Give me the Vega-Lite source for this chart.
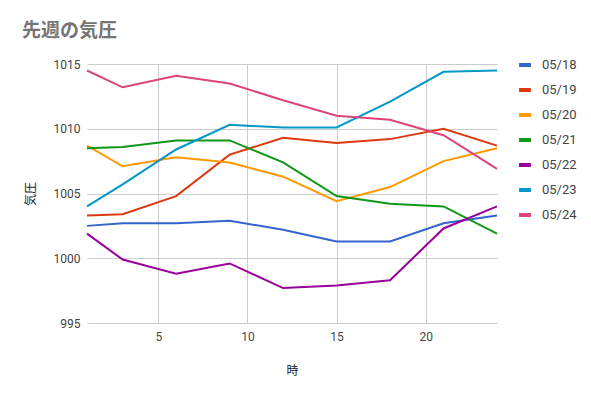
{
  "$schema": "https://vega.github.io/schema/vega-lite/v6.json",
  "autosize": "none",
  "width": 410,
  "height": 259,
  "padding": {"left": 87, "top": 64, "right": 94, "bottom": 74},
  "background": "white",
  "config": {
    "font": "Roboto, Noto Sans CJK JP",
    "view": {"stroke": null}
  },
  "title": {
    "text": "先週の気圧",
    "anchor": "start",
    "frame": "group",
    "dx": -65,
    "offset": 16,
    "fontSize": 19,
    "fontWeight": "bold",
    "color": "#757575",
    "font": "Noto Sans CJK JP"
  },
  "data": {
    "values": [
      {"date": "05/18", "hour": 1, "p": 1002.5}, {"date": "05/18", "hour": 3, "p": 1002.7}, {"date": "05/18", "hour": 6, "p": 1002.7}, {"date": "05/18", "hour": 9, "p": 1002.9}, {"date": "05/18", "hour": 12, "p": 1002.2}, {"date": "05/18", "hour": 15, "p": 1001.3}, {"date": "05/18", "hour": 18, "p": 1001.3}, {"date": "05/18", "hour": 21, "p": 1002.7}, {"date": "05/18", "hour": 24, "p": 1003.3},
      {"date": "05/19", "hour": 1, "p": 1003.3}, {"date": "05/19", "hour": 3, "p": 1003.4}, {"date": "05/19", "hour": 6, "p": 1004.8}, {"date": "05/19", "hour": 9, "p": 1008.0}, {"date": "05/19", "hour": 12, "p": 1009.3}, {"date": "05/19", "hour": 15, "p": 1008.9}, {"date": "05/19", "hour": 18, "p": 1009.2}, {"date": "05/19", "hour": 21, "p": 1010.0}, {"date": "05/19", "hour": 24, "p": 1008.7},
      {"date": "05/20", "hour": 1, "p": 1008.7}, {"date": "05/20", "hour": 3, "p": 1007.1}, {"date": "05/20", "hour": 6, "p": 1007.8}, {"date": "05/20", "hour": 9, "p": 1007.4}, {"date": "05/20", "hour": 12, "p": 1006.3}, {"date": "05/20", "hour": 15, "p": 1004.4}, {"date": "05/20", "hour": 18, "p": 1005.5}, {"date": "05/20", "hour": 21, "p": 1007.5}, {"date": "05/20", "hour": 24, "p": 1008.5},
      {"date": "05/21", "hour": 1, "p": 1008.5}, {"date": "05/21", "hour": 3, "p": 1008.6}, {"date": "05/21", "hour": 6, "p": 1009.1}, {"date": "05/21", "hour": 9, "p": 1009.1}, {"date": "05/21", "hour": 12, "p": 1007.4}, {"date": "05/21", "hour": 15, "p": 1004.8}, {"date": "05/21", "hour": 18, "p": 1004.2}, {"date": "05/21", "hour": 21, "p": 1004.0}, {"date": "05/21", "hour": 24, "p": 1001.9},
      {"date": "05/22", "hour": 1, "p": 1001.9}, {"date": "05/22", "hour": 3, "p": 999.9}, {"date": "05/22", "hour": 6, "p": 998.8}, {"date": "05/22", "hour": 9, "p": 999.6}, {"date": "05/22", "hour": 12, "p": 997.7}, {"date": "05/22", "hour": 15, "p": 997.9}, {"date": "05/22", "hour": 18, "p": 998.3}, {"date": "05/22", "hour": 21, "p": 1002.3}, {"date": "05/22", "hour": 24, "p": 1004.0},
      {"date": "05/23", "hour": 1, "p": 1004.0}, {"date": "05/23", "hour": 3, "p": 1005.7}, {"date": "05/23", "hour": 6, "p": 1008.4}, {"date": "05/23", "hour": 9, "p": 1010.3}, {"date": "05/23", "hour": 12, "p": 1010.1}, {"date": "05/23", "hour": 15, "p": 1010.1}, {"date": "05/23", "hour": 18, "p": 1012.1}, {"date": "05/23", "hour": 21, "p": 1014.4}, {"date": "05/23", "hour": 24, "p": 1014.5},
      {"date": "05/24", "hour": 1, "p": 1014.5}, {"date": "05/24", "hour": 3, "p": 1013.2}, {"date": "05/24", "hour": 6, "p": 1014.1}, {"date": "05/24", "hour": 9, "p": 1013.5}, {"date": "05/24", "hour": 12, "p": 1012.2}, {"date": "05/24", "hour": 15, "p": 1011.0}, {"date": "05/24", "hour": 18, "p": 1010.7}, {"date": "05/24", "hour": 21, "p": 1009.5}, {"date": "05/24", "hour": 24, "p": 1006.9}
    ]
  },
  "mark": {"type": "line", "strokeWidth": 2},
  "encoding": {
    "x": {
      "field": "hour", "type": "quantitative", "title": "時",
      "scale": {"domain": [1, 24], "nice": false, "zero": false},
      "axis": {"values": [5, 10, 15, 20], "format": "d", "domain": false, "ticks": false, "gridColor": "#cccccc", "labelColor": "#444444", "labelFontSize": 12, "labelPadding": 8, "titleFontSize": 12, "titleFontWeight": "normal", "titleColor": "#222222", "titlePadding": 23, "titleFont": "Noto Sans CJK JP"}
    },
    "y": {
      "field": "p", "type": "quantitative", "title": "気圧",
      "scale": {"domain": [995, 1015], "nice": false, "zero": false},
      "axis": {"values": [995, 1000, 1005, 1010, 1015], "format": "d", "domain": false, "ticks": false, "gridColor": "#cccccc", "labelColor": "#444444", "labelFontSize": 12, "labelPadding": 7, "titleFontSize": 12, "titleFontWeight": "normal", "titleColor": "#222222", "titlePadding": 16, "titleFont": "Noto Sans CJK JP"}
    },
    "color": {
      "field": "date", "type": "nominal", "title": null,
      "scale": {"domain": ["05/18", "05/19", "05/20", "05/21", "05/22", "05/23", "05/24"], "range": ["#3366cc", "#dc3912", "#ff9900", "#109618", "#990099", "#0099c6", "#dd4477"]},
      "legend": {"orient": "none", "legendX": 430, "legendY": -7, "symbolType": "stroke", "symbolSize": 140, "symbolStrokeWidth": 4, "labelFontSize": 13, "labelColor": "#444444", "rowPadding": 9, "labelOffset": 9}
    }
  }
}
